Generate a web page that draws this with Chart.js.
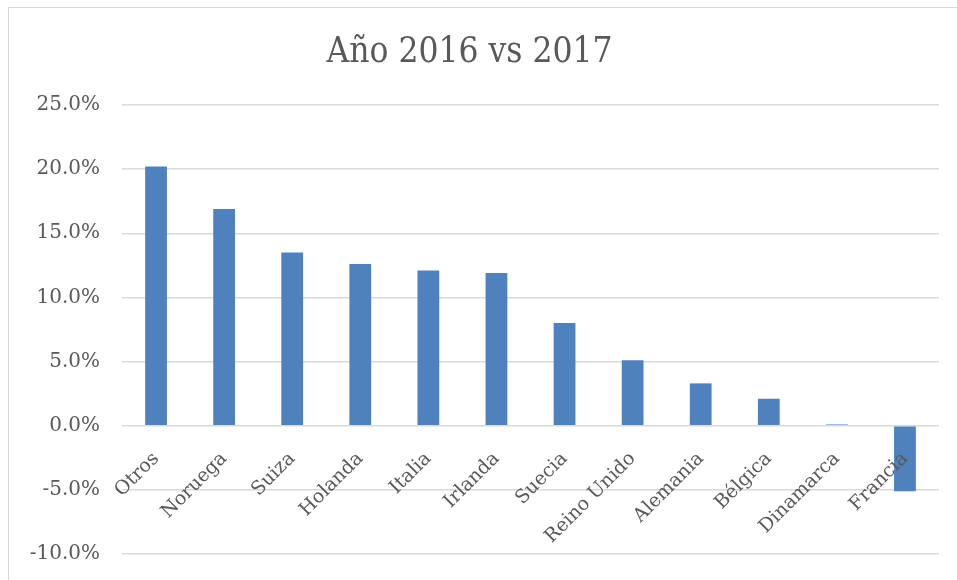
<!DOCTYPE html>
<html>
<head>
<meta charset="utf-8">
<script src="https://cdn.jsdelivr.net/npm/chart.js@4.4.0/dist/chart.umd.min.js"></script>
<style>
    html, body { margin: 0; padding: 0; background: #fff; overflow: hidden; }
    #wrap { position: relative; width: 957px; height: 580px; }
    #frame { position: absolute; left: 8px; top: 7px; width: 980px; height: 600px; border: 1px solid #d9d9d9; pointer-events: none; }
</style>
</head>
<body>
<div id="wrap">
    <canvas id="chart" width="957" height="580"></canvas>
    <div id="frame"></div>
</div>
<script>
// Data
const paises = ["Otros", "Noruega", "Suiza", "Holanda", "Italia", "Irlanda", "Suecia", "Reino Unido", "Alemania", "Bélgica", "Dinamarca", "Francia"];
const variacion = [20.2, 16.9, 13.5, 12.6, 12.1, 11.9, 8.0, 5.1, 3.3, 2.1, 0.1, -5.1];
const yMin = -10;
const yMax = 25;
const yStep = 5;

const titleFont = "'DejaVu Serif Condensed', 'DejaVu Serif', serif";
const serif = "'DejaVu Serif', serif";
const textColor = "#595959";

const ctx = document.getElementById("chart").getContext("2d");

new Chart(ctx, {
    type: "bar",
    data: {
        labels: paises,
        datasets: [
            {
                label: "Año 2016 vs 2017",
                data: variacion,
                backgroundColor: "#4f81bd",
                borderWidth: 0,
                barPercentage: 0.32,
                categoryPercentage: 1
            }
        ]
    },
    options: {
        responsive: false,
        animation: false,
        layout: {
            padding: { left: 0, right: 18, top: 0, bottom: 26 }
        },
        plugins: {
            legend: { display: false },
            tooltip: { enabled: false },
            title: {
                display: true,
                text: "Año 2016 vs 2017",
                color: textColor,
                font: { family: titleFont, size: 35, weight: "normal" },
                padding: { top: 32, bottom: 31 }
            }
        },
        scales: {
            x: {
                position: { y: 0 },
                grid: { display: false },
                border: { display: false },
                ticks: {
                    z: 1, // labels sit on top of the negative bar
                    color: textColor,
                    font: { family: serif, size: 19 },
                    minRotation: 45,
                    maxRotation: 45,
                    padding: 14
                }
            },
            y: {
                min: yMin,
                max: yMax,
                afterFit: (scale) => {
                    // fixed axis width, and no extra space reserved for the end labels
                    scale.width = 122;
                    scale.paddingTop = 0;
                    scale.paddingBottom = 0;
                },
                grid: {
                    color: "#d9d9d9",
                    lineWidth: 1.5,
                    drawTicks: false
                },
                border: { display: false },
                ticks: {
                    stepSize: yStep,
                    padding: 22,
                    color: textColor,
                    font: { family: serif, size: 20 },
                    callback: (v) => v.toFixed(1) + "%"
                }
            }
        }
    }
});
</script>
</body>
</html>
